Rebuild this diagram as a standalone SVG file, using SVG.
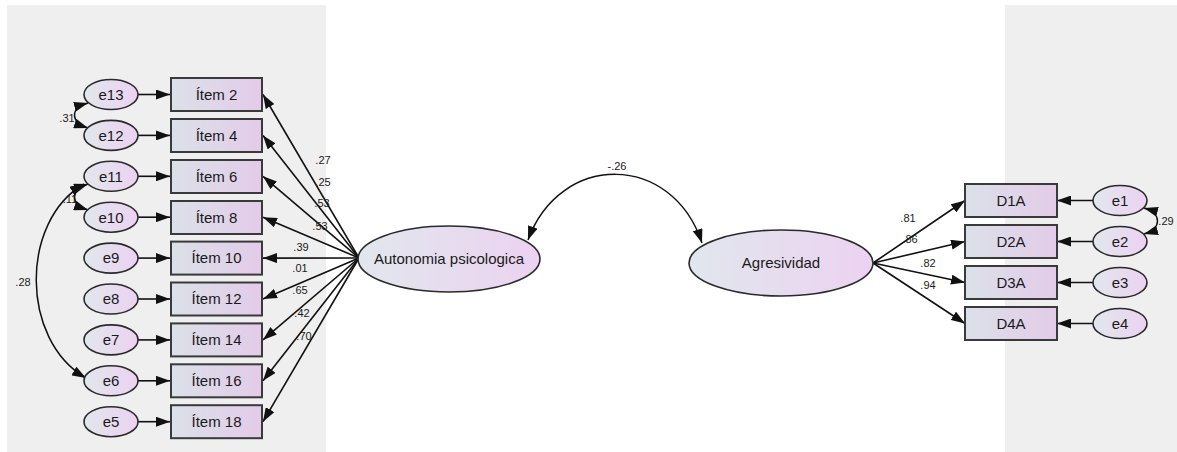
<svg xmlns="http://www.w3.org/2000/svg" width="1177" height="452" viewBox="0 0 1177 452">
<defs>
<linearGradient id="gr" x1="0" y1="0" x2="1" y2="0"><stop offset="0" stop-color="#dbe1e8"/><stop offset="1" stop-color="#e3cbe9"/></linearGradient>
<linearGradient id="ge" x1="0" y1="0" x2="1" y2="0"><stop offset="0" stop-color="#e1e7ed"/><stop offset="1" stop-color="#ecd2f1"/></linearGradient>
<marker id="ah" viewBox="0 0 14 10" markerWidth="14" markerHeight="10" refX="14" refY="5" orient="auto-start-reverse" markerUnits="userSpaceOnUse"><path d="M0,0 L14,5 L0,10 z" fill="#111"/></marker>
<style>
.bg{fill:#efefef}
.rect{fill:url(#gr);stroke:#3a3a3a;stroke-width:2}
.ell{fill:url(#ge);stroke:#2a2a2a;stroke-width:1.6}
.t{font-family:"Liberation Sans",Arial,sans-serif;font-size:15px;fill:#1a1a1a;text-anchor:middle}
.l{font-family:"Liberation Sans",Arial,sans-serif;font-size:11px;fill:#1a1a1a;text-anchor:middle}
.c{fill:none;stroke:#111;stroke-width:1.6;marker-end:url(#ah)}
.cv{fill:none;stroke:#111;stroke-width:1.5;marker-end:url(#ah);marker-start:url(#ah)}
</style>
</defs>
<rect class="bg" x="7" y="5" width="319" height="447"/>
<rect class="bg" x="1005" y="5" width="172" height="447"/>

<g id="connectors">
<line class="c" x1="138" y1="94.5" x2="170" y2="94.5"/>
<line class="c" x1="138" y1="135.4" x2="170" y2="135.4"/>
<line class="c" x1="138" y1="176.3" x2="170" y2="176.3"/>
<line class="c" x1="138" y1="217.2" x2="170" y2="217.2"/>
<line class="c" x1="138" y1="258.1" x2="170" y2="258.1"/>
<line class="c" x1="138" y1="299" x2="170" y2="299"/>
<line class="c" x1="138" y1="339.9" x2="170" y2="339.9"/>
<line class="c" x1="138" y1="380.8" x2="170" y2="380.8"/>
<line class="c" x1="138" y1="421.7" x2="170" y2="421.7"/>
<line class="c" x1="359" y1="258" x2="263" y2="94.5"/>
<line class="c" x1="359" y1="258" x2="263" y2="135.4"/>
<line class="c" x1="359" y1="258" x2="263" y2="176.3"/>
<line class="c" x1="359" y1="258" x2="263" y2="217.2"/>
<line class="c" x1="359" y1="258" x2="263" y2="258.1"/>
<line class="c" x1="359" y1="258" x2="263" y2="299"/>
<line class="c" x1="359" y1="258" x2="263" y2="339.9"/>
<line class="c" x1="359" y1="258" x2="263" y2="380.8"/>
<line class="c" x1="359" y1="258" x2="263" y2="421.7"/>
<line class="c" x1="873" y1="263" x2="965" y2="200.5"/>
<line class="c" x1="873" y1="263" x2="965" y2="241.5"/>
<line class="c" x1="873" y1="263" x2="965" y2="282.5"/>
<line class="c" x1="873" y1="263" x2="965" y2="323.5"/>
<line class="c" x1="1093" y1="200.5" x2="1057" y2="200.5"/>
<line class="c" x1="1093" y1="241.5" x2="1057" y2="241.5"/>
<line class="c" x1="1093" y1="282.5" x2="1057" y2="282.5"/>
<line class="c" x1="1093" y1="323.5" x2="1057" y2="323.5"/>
<path class="cv" d="M528 240 C560 152 672 152 702 243"/>
<path class="cv" d="M88 103 C70 108 70 122 88 128"/>
<path class="cv" d="M88 184 C70 190 70 204 88 210"/>
<path class="cv" d="M84 184 C20 221 20 340 86 378"/>
<path class="cv" d="M1144 208 C1162 213 1162 229 1144 234"/>
<text class="l" x="323" y="164">.27</text>
<text class="l" x="323" y="186">.25</text>
<text class="l" x="322" y="207">.53</text>
<text class="l" x="320" y="230">.53</text>
<text class="l" x="301" y="251">.39</text>
<text class="l" x="300" y="272">.01</text>
<text class="l" x="300" y="294">.65</text>
<text class="l" x="302" y="317">.42</text>
<text class="l" x="304" y="340">.70</text>
<text class="l" x="908" y="222">.81</text>
<text class="l" x="910" y="243">.86</text>
<text class="l" x="928" y="267">.82</text>
<text class="l" x="928" y="289">.94</text>
<text class="l" x="617" y="170">-.26</text>
<text class="l" x="67" y="122">.31</text>
<text class="l" x="70" y="203">.11</text>
<text class="l" x="23" y="286">.28</text>
<text class="l" x="1166" y="225">.29</text>
</g>

<g id="item2"><rect class="rect" x="171" y="78" width="91" height="33"/><text class="t" x="216.5" y="99.8">Ítem 2</text></g>
<g id="item4"><rect class="rect" x="171" y="119" width="91" height="33"/><text class="t" x="216.5" y="140.7">Ítem 4</text></g>
<g id="item6"><rect class="rect" x="171" y="160" width="91" height="33"/><text class="t" x="216.5" y="181.6">Ítem 6</text></g>
<g id="item8"><rect class="rect" x="171" y="201" width="91" height="33"/><text class="t" x="216.5" y="222.5">Ítem 8</text></g>
<g id="item10"><rect class="rect" x="171" y="241.6" width="91" height="33"/><text class="t" x="216.5" y="263.4">Ítem 10</text></g>
<g id="item12"><rect class="rect" x="171" y="282.5" width="91" height="33"/><text class="t" x="216.5" y="304.3">Ítem 12</text></g>
<g id="item14"><rect class="rect" x="171" y="323.4" width="91" height="33"/><text class="t" x="216.5" y="345.2">Ítem 14</text></g>
<g id="item16"><rect class="rect" x="171" y="364.3" width="91" height="33"/><text class="t" x="216.5" y="386.1">Ítem 16</text></g>
<g id="item18"><rect class="rect" x="171" y="405.2" width="91" height="33"/><text class="t" x="216.5" y="427">Ítem 18</text></g>

<g id="e13"><ellipse class="ell" cx="111" cy="94.5" rx="27" ry="15"/><text class="t" x="111" y="99.8">e13</text></g>
<g id="e12"><ellipse class="ell" cx="111" cy="135.4" rx="27" ry="15"/><text class="t" x="111" y="140.7">e12</text></g>
<g id="e11"><ellipse class="ell" cx="111" cy="176.3" rx="27" ry="15"/><text class="t" x="111" y="181.6">e11</text></g>
<g id="e10"><ellipse class="ell" cx="111" cy="217.2" rx="27" ry="15"/><text class="t" x="111" y="222.5">e10</text></g>
<g id="e9"><ellipse class="ell" cx="111" cy="258.1" rx="27" ry="15"/><text class="t" x="111" y="263.4">e9</text></g>
<g id="e8"><ellipse class="ell" cx="111" cy="299" rx="27" ry="15"/><text class="t" x="111" y="304.3">e8</text></g>
<g id="e7"><ellipse class="ell" cx="111" cy="339.9" rx="27" ry="15"/><text class="t" x="111" y="345.2">e7</text></g>
<g id="e6"><ellipse class="ell" cx="111" cy="380.8" rx="27" ry="15"/><text class="t" x="111" y="386.1">e6</text></g>
<g id="e5"><ellipse class="ell" cx="111" cy="421.7" rx="27" ry="15"/><text class="t" x="111" y="427">e5</text></g>

<g id="autonomia"><ellipse class="ell" cx="449" cy="259" rx="91" ry="33"/><text class="t" x="449" y="264">Autonomia psicologica</text></g>
<g id="agresividad"><ellipse class="ell" cx="781" cy="263" rx="92" ry="33"/><text class="t" x="781" y="268">Agresividad</text></g>

<g id="d1a"><rect class="rect" x="965" y="184" width="92" height="33"/><text class="t" x="1011" y="205.8">D1A</text></g>
<g id="d2a"><rect class="rect" x="965" y="225" width="92" height="33"/><text class="t" x="1011" y="246.8">D2A</text></g>
<g id="d3a"><rect class="rect" x="965" y="266" width="92" height="33"/><text class="t" x="1011" y="287.8">D3A</text></g>
<g id="d4a"><rect class="rect" x="965" y="307" width="92" height="33"/><text class="t" x="1011" y="328.8">D4A</text></g>

<g id="e1"><ellipse class="ell" cx="1120" cy="200.5" rx="27" ry="15"/><text class="t" x="1120" y="205.8">e1</text></g>
<g id="e2"><ellipse class="ell" cx="1120" cy="241.5" rx="27" ry="15"/><text class="t" x="1120" y="246.8">e2</text></g>
<g id="e3"><ellipse class="ell" cx="1120" cy="282.5" rx="27" ry="15"/><text class="t" x="1120" y="287.8">e3</text></g>
<g id="e4"><ellipse class="ell" cx="1120" cy="323.5" rx="27" ry="15"/><text class="t" x="1120" y="328.8">e4</text></g>
</svg>
